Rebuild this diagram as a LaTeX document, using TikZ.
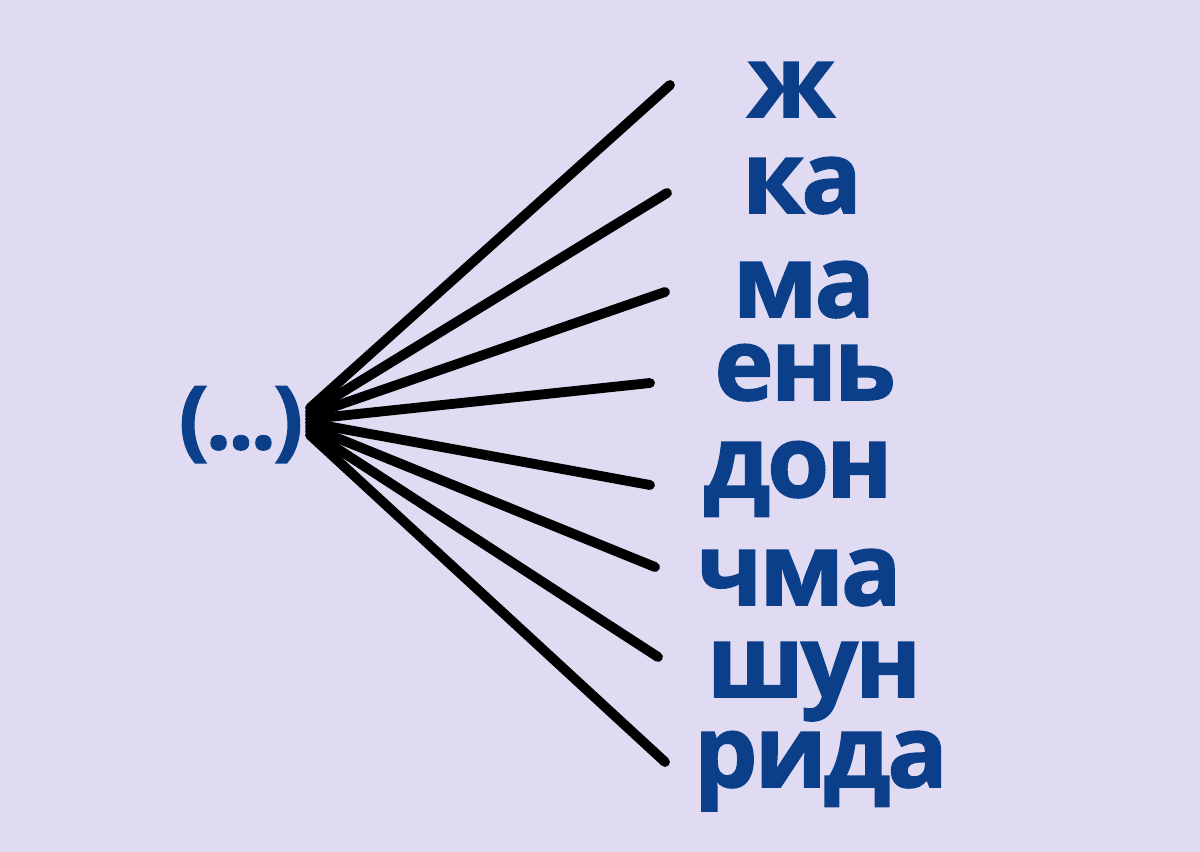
\documentclass[tikz,border=0pt]{standalone}
\usepackage{fontspec}
\setmainfont{Open Sans}
\newfontfamily\wordfont[FakeBold=1.6,LetterSpace=-3]{Open Sans Bold}
\definecolor{bgviolet}{RGB}{224,219,242}
\definecolor{wordblue}{RGB}{12,63,138}
\tikzset{
  stem/.style={line width=2.8pt,line cap=round,black},
  word/.style={anchor=base,inner sep=0pt,text=wordblue,font=\fontsize{28.5}{28.5}\wordfont},
}

\begin{document}
\begin{tikzpicture}[x=0.01cm,y=-0.01cm]
  \fill[bgviolet] (0,0) rectangle (1200,852);
  \useasboundingbox (0,0) rectangle (1200,852);

  \node[word,font=\fontsize{25}{25}\wordfont] (root) at (241,449) {(...)};

  \coordinate (a) at (310,408) {};
  \coordinate (b) at (310,412) {};
  \coordinate (c) at (310,415) {};
  \coordinate (d) at (310,419) {};
  \coordinate (e) at (310,423) {};
  \coordinate (f) at (310,427) {};
  \coordinate (g) at (310,431) {};
  \coordinate (h) at (310,435) {};

  \coordinate (ta) at (670,85) {};
  \coordinate (tb) at (667,193) {};
  \coordinate (tc) at (665,292) {};
  \coordinate (td) at (650,383) {};
  \coordinate (te) at (650,485) {};
  \coordinate (tf) at (655,567) {};
  \coordinate (tg) at (658,657) {};
  \coordinate (th) at (665,762) {};

  \node[word] (zh) at (791,117) {ж};
  \node[word] (ka) at (802,213) {ка};
  \node[word] (ma) at (804,317) {ма};
  \node[word] (en) at (805,400) {ень};
  \node[word] (don) at (798,497) {дон};
  \node[word] (chma) at (799,605) {чма};
  \node[word] (shun) at (814,697) {шун};
  \node[word] (rida) at (821,787) {рида};

  \draw[stem] (a) -- (ta);
  \draw[stem] (b) -- (tb);
  \draw[stem] (c) -- (tc);
  \draw[stem] (d) -- (td);
  \draw[stem] (e) -- (te);
  \draw[stem] (f) -- (tf);
  \draw[stem] (g) -- (tg);
  \draw[stem] (h) -- (th);
\end{tikzpicture}
\end{document}
